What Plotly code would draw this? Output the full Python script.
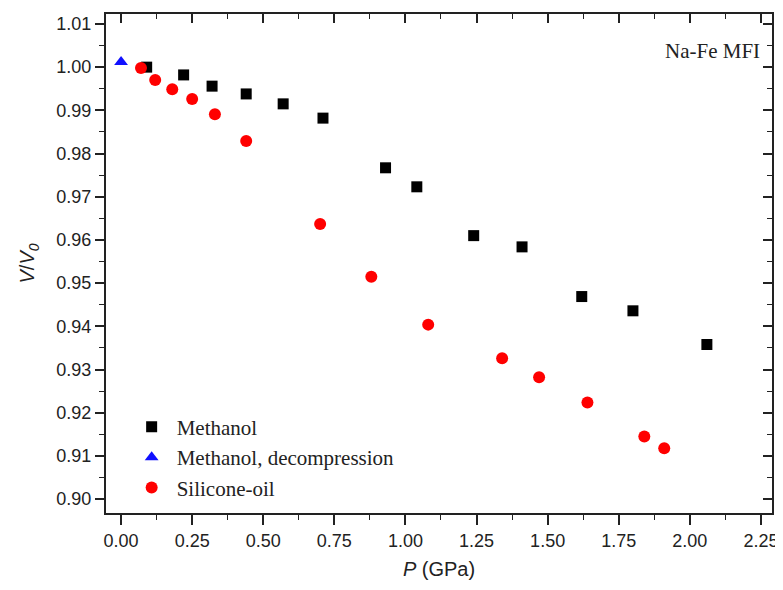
import plotly.graph_objects as go

# Methanol (compression)
meth_P = [0.09, 0.22, 0.32, 0.44, 0.57, 0.71, 0.93, 1.04, 1.24, 1.41, 1.62, 1.80, 2.06]
meth_V = [1.0000, 0.9982, 0.9956, 0.9938, 0.9915, 0.9882, 0.9767, 0.9723, 0.9610, 0.9584, 0.9469, 0.9436, 0.9358]

# Methanol, decompression
dec_P = [0.00]
dec_V = [1.0012]

# Silicone-oil
sil_P = [0.07, 0.12, 0.18, 0.25, 0.33, 0.44, 0.70, 0.88, 1.08, 1.34, 1.47, 1.64, 1.84, 1.91]
sil_V = [0.9998, 0.9970, 0.9949, 0.9926, 0.9891, 0.9829, 0.9637, 0.9515, 0.9404, 0.9326, 0.9282, 0.9224, 0.9145, 0.9118]

x_ticks = [0.00, 0.25, 0.50, 0.75, 1.00, 1.25, 1.50, 1.75, 2.00, 2.25]
y_ticks = [0.90, 0.91, 0.92, 0.93, 0.94, 0.95, 0.96, 0.97, 0.98, 0.99, 1.00, 1.01]

x_range = [-0.053, 2.289]
y_range = [0.8968, 1.0123]

x_minor = [v + 0.125 for v in x_ticks[:-1]]
y_minor = [round(v + 0.005, 3) for v in y_ticks[:-1]]

fig = go.Figure()
fig.add_trace(go.Scatter(x=meth_P, y=meth_V, mode="markers", name="Methanol",
                         legendgroup="a",
                         marker=dict(symbol="square", size=11, color="black")))
fig.add_trace(go.Scatter(x=dec_P, y=dec_V, mode="markers", name="Methanol, decompression",
                         legendgroup="b",
                         marker=dict(symbol="triangle-up", size=12, color="#1010ff")))
fig.add_trace(go.Scatter(x=sil_P, y=sil_V, mode="markers", name="Silicone-oil",
                         legendgroup="c",
                         marker=dict(symbol="circle", size=12, color="#ff0000")))
# invisible trace for top/right mirrored axes
fig.add_trace(go.Scatter(x=[None], y=[None], xaxis="x2", yaxis="y2", showlegend=False,
                         hoverinfo="skip"))

ink = "#222"
tickfont = dict(family="Liberation Sans, Arial", size=18, color=ink)
titlefont = dict(family="Liberation Sans, Arial", size=20, color=ink)
serif = "Liberation Serif, Times New Roman"

# the page body adds an 8px margin, so the figure is sized to fit the window
fig.update_layout(
    width=775, height=582,
    paper_bgcolor="white", plot_bgcolor="white",
    margin=dict(l=98, r=11, t=6, b=77),
    showlegend=True,
    legend=dict(x=0.031, y=0.213, xanchor="left", yanchor="top",
                font=dict(family=serif, size=21, color=ink),
                bgcolor="rgba(0,0,0,0)", tracegroupgap=0, itemwidth=40),
    xaxis=dict(range=x_range, tickvals=x_ticks, ticktext=[f"{v:.2f}" for v in x_ticks],
               automargin=False,
               showgrid=False, zeroline=False, showline=True, linecolor=ink, linewidth=2,
               ticks="outside", ticklen=10, tickwidth=1.5, tickcolor=ink, tickfont=tickfont,
               minor=dict(tickvals=x_minor, ticks="outside", ticklen=5, tickwidth=1.2, tickcolor=ink),
               title=dict(text="<i>P</i> (GPa)", font=titlefont, standoff=12)),
    yaxis=dict(range=y_range, tickvals=y_ticks, ticktext=[f"{v:.2f}" for v in y_ticks],
               automargin=False,
               showgrid=False, zeroline=False, showline=True, linecolor=ink, linewidth=2,
               ticks="outside", ticklen=9, tickwidth=1.5, tickcolor=ink, tickfont=tickfont,
               minor=dict(tickvals=y_minor, ticks="outside", ticklen=5, tickwidth=1.2, tickcolor=ink),
               title=dict(text="<i>V</i>/<i>V</i><sub><i>0</i></sub>", font=titlefont, standoff=16)),
    xaxis2=dict(range=x_range, overlaying="x", side="top", tickvals=x_ticks, showticklabels=False,
                automargin=False,
                showgrid=False, zeroline=False, showline=True, linecolor=ink, linewidth=2,
                ticks="inside", ticklen=9, tickwidth=1.5, tickcolor=ink,
                minor=dict(tickvals=x_minor, ticks="inside", ticklen=5, tickwidth=1.2, tickcolor=ink)),
    yaxis2=dict(range=y_range, overlaying="y", side="right", tickvals=y_ticks, showticklabels=False,
                automargin=False,
                showgrid=False, zeroline=False, showline=True, linecolor=ink, linewidth=2,
                ticks="inside", ticklen=9, tickwidth=1.5, tickcolor=ink,
                minor=dict(tickvals=y_minor, ticks="inside", ticklen=5, tickwidth=1.2, tickcolor=ink)),
    annotations=[dict(text="Na-Fe MFI", xref="paper", yref="paper", x=0.985, y=0.925,
                      xanchor="right", yanchor="middle", showarrow=False,
                      font=dict(family=serif, size=21, color=ink))],
)

fig.write_html("out.html")
